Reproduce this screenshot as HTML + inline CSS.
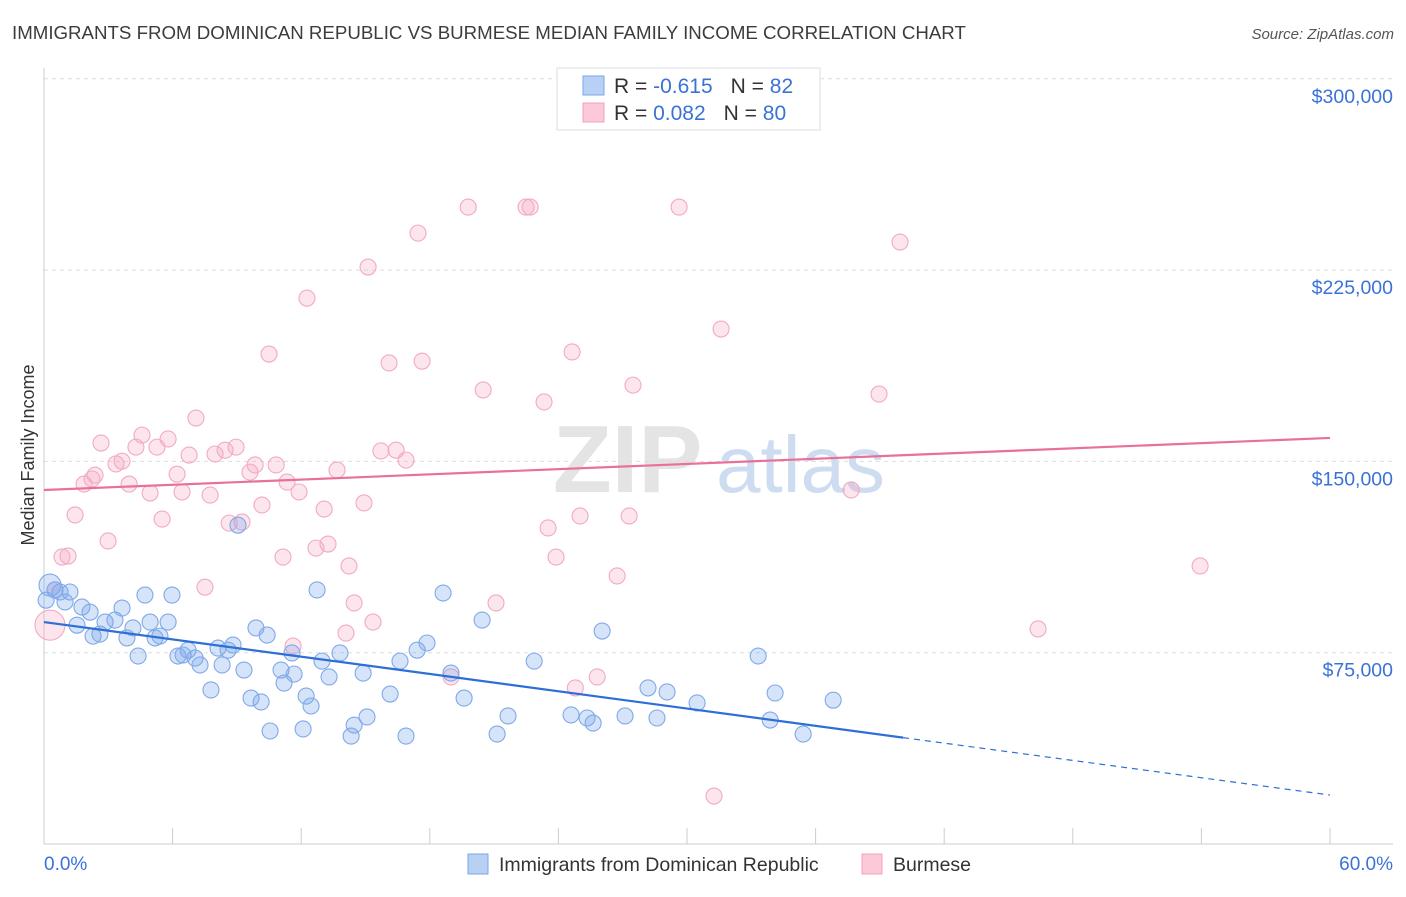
<!DOCTYPE html>
<html><head><meta charset="utf-8"><style>
body{margin:0;background:#fff;font-family:"Liberation Sans",sans-serif;}
svg text{font-family:"Liberation Sans",sans-serif;}
</style></head><body>
<svg id="chart" width="1406" height="892" xmlns="http://www.w3.org/2000/svg">
<text x="12" y="39" font-size="18.7" fill="#3c3c3c">IMMIGRANTS FROM DOMINICAN REPUBLIC VS BURMESE MEDIAN FAMILY INCOME CORRELATION CHART</text>
<text x="1394" y="39" font-size="15" fill="#555" text-anchor="end" font-style="italic">Source: ZipAtlas.com</text>
<text transform="translate(34,455) rotate(-90)" font-size="18" fill="#333" text-anchor="middle">Median Family Income</text>
<g>
<text x="553" y="492" font-size="96" font-family="Liberation Serif" fill="#e4e4e4" font-weight="bold">ZIP</text>
<text x="716" y="492" font-size="80" fill="#cddcf0">atlas</text>
</g>
<g id="grid"></g><g id="axes"></g><g id="pts"></g><g id="lines"></g>
<g>
<rect x="557" y="68" width="263" height="62" fill="#fff" stroke="#ddd"/>
<rect x="583" y="76" width="21" height="19" fill="#b8d0f4" stroke="#7aa6e6"/>
<rect x="583" y="103" width="21" height="19" fill="#fbc9d8" stroke="#f0a0bc"/>
<text x="614" y="93" font-size="21" fill="#333">R = <tspan fill="#3a72d8">-0.615</tspan><tspan dx="18" fill="#333">N = </tspan><tspan fill="#3a72d8"> 82</tspan></text>
<text x="614" y="120" font-size="21" fill="#333">R = <tspan fill="#3a72d8"> 0.082</tspan><tspan dx="18" fill="#333">N = </tspan><tspan fill="#3a72d8">80</tspan></text>
</g>
<g>
<rect x="468" y="854" width="20" height="20" fill="#b8d0f4" stroke="#7aa6e6"/>
<text x="499" y="871" font-size="19.5" fill="#333">Immigrants from Dominican Republic</text>
<rect x="862" y="854" width="20" height="20" fill="#fbc9d8" stroke="#f0a0bc"/>
<text x="893" y="871" font-size="19.5" fill="#333">Burmese</text>
</g>
</svg>
<script>
const blueX=[0.28,0.51,0.75,1.21,0.98,1.77,2.15,1.54,2.29,2.61,2.85,3.31,3.64,3.87,4.15,4.39,4.71,4.95,5.18,5.41,5.79,5.97,6.25,6.49,6.72,7.05,7.28,7.79,8.12,8.31,8.59,8.82,9.33,9.66,9.89,10.13,10.41,10.55,11.06,11.2,11.57,11.67,12.09,12.23,12.46,12.74,12.97,13.3,13.81,14.33,14.47,14.89,15.07,16.15,16.61,16.89,17.41,17.87,18.62,18.99,19.6,20.44,21.14,21.65,22.87,24.59,25.34,25.62,26.04,27.11,28.18,28.6,29.07,30.47,33.32,33.88,34.11,35.42,36.82,9.05,0.1];
const blueY=[101.5,99.6,98.8,98.8,94.9,92.9,90.9,85.8,81.5,82.3,87,87.8,92.5,80.8,84.7,73.7,97.6,87,80.8,81.5,87,97.6,73.7,74.1,76,72.9,70.2,60.4,76.8,70.2,76,78,68.2,57.2,84.7,55.7,81.9,44.3,68.2,63.1,74.9,66.6,45.1,58,54.1,99.6,71.7,65.5,74.9,42.3,46.6,67,49.8,58.8,71.7,42.3,76,78.8,98.4,67,57.2,87.8,43.1,50.2,71.7,50.6,49.4,47.4,83.5,50.2,61.2,49.4,59.6,55.3,73.7,48.6,59.2,43.1,56.4,125,95.6];
const pinkX=[0.28,0.51,0.84,1.12,1.45,1.87,2.24,2.38,2.66,2.99,3.36,3.64,3.97,4.29,4.57,4.95,5.27,5.51,5.79,6.21,6.44,6.77,7.09,7.51,7.75,7.98,8.45,8.64,8.96,9.24,9.61,9.85,10.17,10.5,10.83,11.15,11.34,11.62,11.9,12.27,12.69,13.07,13.25,13.67,14.09,14.23,14.47,14.93,15.12,15.35,15.72,16.1,16.43,16.89,17.45,17.64,18.99,19.79,20.49,21.09,22.49,22.68,23.33,23.52,23.89,24.64,24.79,25.01,25.81,26.74,27.3,27.48,29.63,31.26,31.59,37.66,38.96,39.94,46.38,53.94];
const pinkY=[85.8,99.6,112.5,112.9,129,141.1,143.1,144.6,157.2,118.8,149,150.1,141.1,155.6,160.3,137.6,155.6,127.4,158.8,145,138,152.5,167,100.7,136.8,152.9,154.4,125.8,155.6,126.2,145.8,148.6,132.9,192.1,148.6,112.5,141.9,77.6,138,214,116,131.3,117.6,146.6,82.7,109,94.5,133.7,226.2,87,154.1,188.6,154.4,150.5,239.5,189.3,65.5,249.7,178,94.5,249.7,249.7,173.3,123.9,112.5,192.9,61.2,128.6,65.5,105.1,128.6,179.9,249.7,18.8,201.9,138.8,176.4,236,84.3,109];
const yTicks=[75,150,225,300];
const yTickLabels=["$75,000","$150,000","$225,000","$300,000"];
const blueFit=[87.0,19.2]; const blueSolidEnd=40.08;
const pinkFit=[138.8,159.2];
const xTickCount=10;
const NS="http://www.w3.org/2000/svg";
const X=p=>44+p*(1330-44)/60;
const Y=v=>844-v*191.3/75;
function mk(tag,attrs,parent){const e=document.createElementNS(NS,tag);for(const k in attrs)e.setAttribute(k,attrs[k]);document.getElementById(parent).appendChild(e);return e;}
yTicks.forEach((t,i)=>{
  const l=mk('line',{x1:44,x2:1393,y1:Y(t),y2:Y(t),stroke:'#ddd','stroke-dasharray':'4,4'},'grid');
  
  
  const tx=mk('text',{x:1393,y:Y(t)+24,'font-size':19.5,fill:'#3a72d8','text-anchor':'end'},'axes');
  tx.textContent=yTickLabels[i];
  
  
});
const xa=mk('line',{x1:44,x2:1393,y1:844,y2:844,stroke:'#ccc'},'axes');


const ya=mk('line',{x1:44,x2:44,y1:68,y2:844,stroke:'#ccc'},'axes');


for(let i=0;i<=xTickCount;i++){const t=mk('line',{x1:X(i*6),x2:X(i*6),y1:828,y2:844,stroke:'#ccc'},'axes');

}
const l0=mk('text',{x:44,y:870,'font-size':19,fill:'#3a72d8'},'axes');l0.textContent='0.0%';


const l1=mk('text',{x:1393,y:870,'font-size':19,fill:'#3a72d8','text-anchor':'end'},'axes');l1.textContent='60.0%';


function pts(xs,ys,fill,stroke,name,bigR){xs.forEach((x,i)=>{
  const r=(i===0)?bigR:8;
  const c=mk('circle',{cx:X(x),cy:Y(ys[i]),r:r,fill:fill,stroke:stroke,'stroke-width':1.1},'pts');
  
  
});}
pts(pinkX,pinkY,'rgba(246,170,196,0.3)','#f2aac3','burmese-point',15);
pts(blueX,blueY,'rgba(120,165,235,0.3)','#80a9e8','dominican-point',11);
const bAt=x=>blueFit[0]+(blueFit[1]-blueFit[0])*x/60;
const b1=mk('line',{x1:X(0),y1:Y(bAt(0)),x2:X(blueSolidEnd),y2:Y(bAt(blueSolidEnd)),stroke:'#2d6fd6','stroke-width':2.2},'lines');


const b2=mk('line',{x1:X(blueSolidEnd),y1:Y(bAt(blueSolidEnd)),x2:X(60),y2:Y(bAt(60)),stroke:'#2d6fd6','stroke-width':1.2,'stroke-dasharray':'6,5'},'lines');


const p1=mk('line',{x1:X(0),y1:Y(pinkFit[0]),x2:X(60),y2:Y(pinkFit[1]),stroke:'#e8709a','stroke-width':2.2},'lines');


</script>
</body></html>
